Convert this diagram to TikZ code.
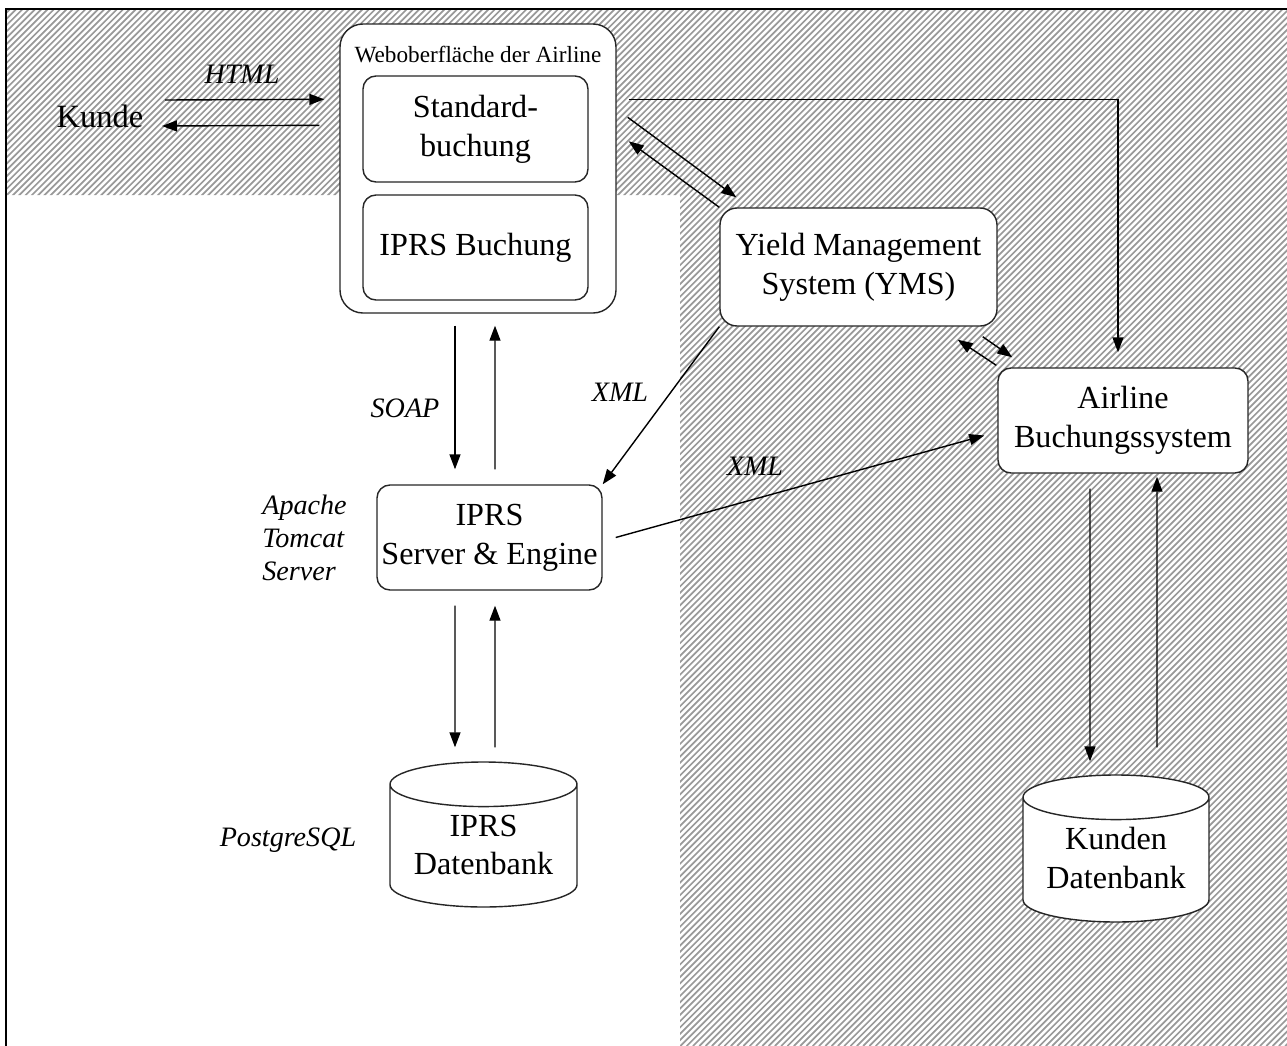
\documentclass[tikz,border=0pt]{standalone}
\usepackage{fontspec}
\setmainfont{Liberation Serif}
\usetikzlibrary{shapes.geometric,arrows.meta,calc}

\begin{document}
\begin{tikzpicture}[x=0.2mm,y=-0.2mm]
\tikzstyle{every node}+=[inner sep=0pt]
\tikzstyle{box}=[draw=black!85,line width=0.8pt,fill=white,rounded corners=2.6mm,align=center,font=\fontsize{18.3}{22}\selectfont]
\tikzstyle{db}=[draw=black!85,line width=0.8pt,fill=white,cylinder,shape border rotate=90,aspect=0.32,anchor=shape center,font=\fontsize{18.3}{22}\selectfont]
\tikzstyle{dbtext}=[align=center,font=\fontsize{18.3}{22}\selectfont]
\tikzstyle{lbl}=[font=\fontsize{16}{18.7}\selectfont\itshape,align=center]
\tikzstyle{arr}=[line width=0.8pt,-{Triangle[length=3mm,width=2.2mm]}]
\tikzstyle{hatch}=[black!40,line width=0.34mm]

\useasboundingbox (0,0) rectangle (1287,1046);
\begin{scope}
\clip (6,9) -- (1287,9) -- (1287,1046) -- (680,1046) -- (680,195) -- (6,195) -- cycle;
\foreach \i in {-170,...,205}
  \draw [hatch] ({\i*6.3},1046) -- ++(1046,-1046);
\end{scope}
\draw [line width=1pt] (6,1046) -- (6,9) -- (1287,9);

\node [box,rounded corners=4.6mm,minimum width=55.2mm,minimum height=57.8mm] (web) at (478,168.5) {};
\node [font=\fontsize{13.2}{15}\selectfont] (webtitle) at (478,55) {Weboberfläche der Airline};
\node [box,minimum width=45mm,minimum height=21.2mm] (std) at (475.5,129) {Standard-\\buchung};
\node [box,minimum width=45mm,minimum height=21mm] (iprsb) at (475.5,247.5) {IPRS Buchung};
\node [box,rounded corners=3.4mm,minimum width=55.4mm,minimum height=23.6mm] (yms) at (858.5,267) {Yield Management\\System (YMS)};
\node [box,minimum width=50mm,minimum height=21mm] (abs) at (1123,420.5) {Airline\\Buchungssystem};
\node [box,minimum width=45mm,minimum height=21mm] (server) at (489.5,537.5) {IPRS\\Server \& Engine};
\node [db,minimum width=37.4mm,minimum height=29mm] (ipdb) at (483.5,834.5) {\phantom{Datenbank}};
\node [dbtext] (ipdbtext) at (483.5,845) {IPRS\\Datenbank};
\node [db,minimum width=37.2mm,minimum height=29.4mm] (kdb) at (1116,848.5) {\phantom{Datenbank}};
\node [dbtext] (kdbtext) at (1116,858) {Kunden\\Datenbank};

\node [font=\fontsize{18.5}{22}\selectfont] (kunde) at (100,116) {Kunde};
\node [lbl] (html) at (242,74) {HTML};
\node [lbl] (soap) at (405,408) {SOAP};
\node [lbl] (xmla) at (620,392) {XML};
\node [lbl] (xmlb) at (755,466) {XML};
\node [lbl,align=left,anchor=west] (tomcat) at (262,538) {Apache\\Tomcat\\Server};
\node [lbl] (pgsql) at (288,840) {PostgreSQL};

\draw [arr] ($(kunde.center)+(65,-16)$) -- ($(web.north west)+(-15,76)$);
\draw [arr] ($(web.north west)+(-20,102)$) -- ($(kunde.center)+(62,10)$);
\draw [arr] ($(web.north east)+(12,76)$) -| ($(abs.north)+(-5,-15)$);
\draw [arr] ($(web.north east)+(11,94)$) -- ($(yms.north west)+(17,-10)$);
\draw [arr] (yms.north west) -- ($(web.north east)+(12,118)$);
\draw [arr] ($(yms.south east)+(-15,10)$) -- ($(abs.north west)+(15,-10)$);
\draw [arr] ($(abs.north west)+(-1,-2)$) -- ($(yms.south east)+(-40,13)$);
\draw [arr] ($(web.south)+(-23,12)$) -- ($(server.north)+(-34.5,-15)$);
\draw [arr] ($(server.north)+(5.5,-15)$) -- ($(web.south)+(17,12)$);
\draw [arr] (yms.south west) -- (server.north east);
\draw [arr] ($(server.east)+(13,0)$) -- ($(abs.west)+(-13,15)$);
\draw [arr] ($(server.south)+(-34.5,15)$) -- ($(ipdb.north)+(-28.5,-14)$);
\draw [arr] ($(ipdb.north)+(11.5,-14)$) -- ($(server.south)+(5.5,15)$);
\draw [arr] ($(abs.south)+(-33,15)$) -- ($(kdb.north)+(-26,-13)$);
\draw [arr] ($(kdb.north)+(41,-27)$) -- ($(abs.south)+(34,3)$);
\end{tikzpicture}
\end{document}
